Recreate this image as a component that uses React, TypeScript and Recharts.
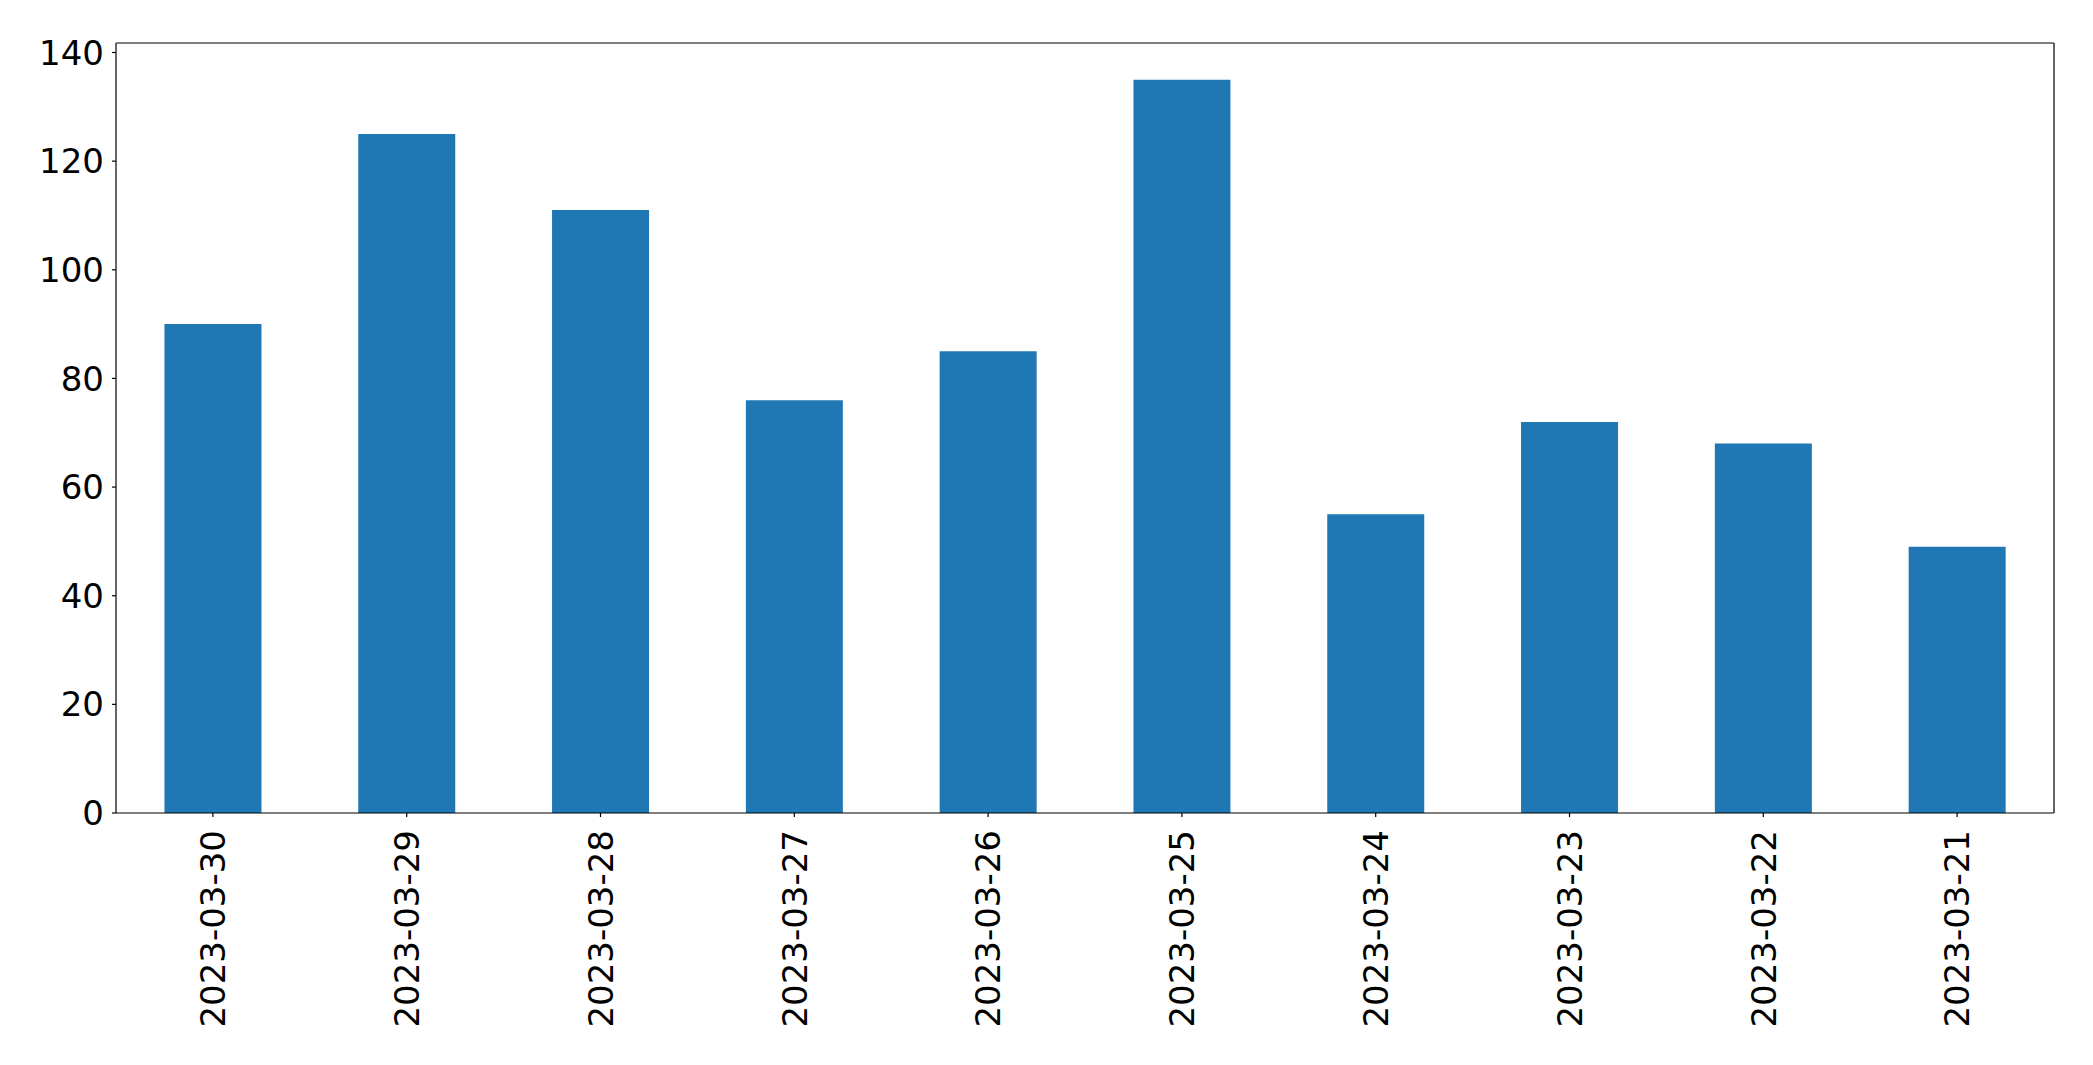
import { Bar, BarChart, XAxis, YAxis } from 'recharts'

const dates = [
  '2023-03-30',
  '2023-03-29',
  '2023-03-28',
  '2023-03-27',
  '2023-03-26',
  '2023-03-25',
  '2023-03-24',
  '2023-03-23',
  '2023-03-22',
  '2023-03-21',
]
const counts = [90, 125, 111, 76, 85, 135, 55, 72, 68, 49]
const yTicks = [0, 20, 40, 60, 80, 100, 120, 140]

const data = dates.map((d, i) => ({ date: d, count: counts[i] }))

const FONT = '"DejaVu Sans", sans-serif'

function DateTick({ x, y, payload }: { x?: number; y?: number; payload?: { value: string } }) {
  return (
    <text
      x={x}
      y={y}
      transform={`rotate(-90, ${x}, ${y})`}
      textAnchor="end"
      dy="0.36em"
      fontSize={34}
      fontFamily={FONT}
      fill="#000"
    >
      {payload?.value}
    </text>
  )
}

export default function App() {
  return (
    <div style={{ position: 'absolute', left: 0, top: 0, background: '#fff' }}>
      <BarChart
        width={2093}
        height={1065}
        data={data}
        margin={{ top: 42, right: 38, left: 0, bottom: 0 }}
        barCategoryGap="25%"
      >
        <XAxis
          dataKey="date"
          height={252}
          interval={0}
          tickSize={4}
          tickMargin={13}
          tick={<DateTick />}
          axisLine={{ stroke: '#000', strokeWidth: 1.2 }}
          tickLine={{ stroke: '#000', strokeWidth: 1.2 }}
        />
        <XAxis
          xAxisId="top"
          dataKey="date"
          orientation="top"
          height={1}
          tick={false}
          tickLine={false}
          axisLine={{ stroke: '#000', strokeWidth: 1.2 }}
        />
        <YAxis
          width={116}
          domain={[0, 141.75]}
          ticks={yTicks}
          interval={0}
          tickSize={4}
          tickMargin={8}
          tick={{ fontSize: 34, fontFamily: FONT, fill: '#000' }}
          axisLine={{ stroke: '#000', strokeWidth: 1.2 }}
          tickLine={{ stroke: '#000', strokeWidth: 1.2 }}
        />
        <YAxis
          yAxisId="right"
          orientation="right"
          width={1}
          domain={[0, 141.75]}
          tick={false}
          tickLine={false}
          axisLine={{ stroke: '#000', strokeWidth: 1.2 }}
        />
        <Bar dataKey="count" fill="#1f77b4" isAnimationActive={false} />
      </BarChart>
    </div>
  )
}
